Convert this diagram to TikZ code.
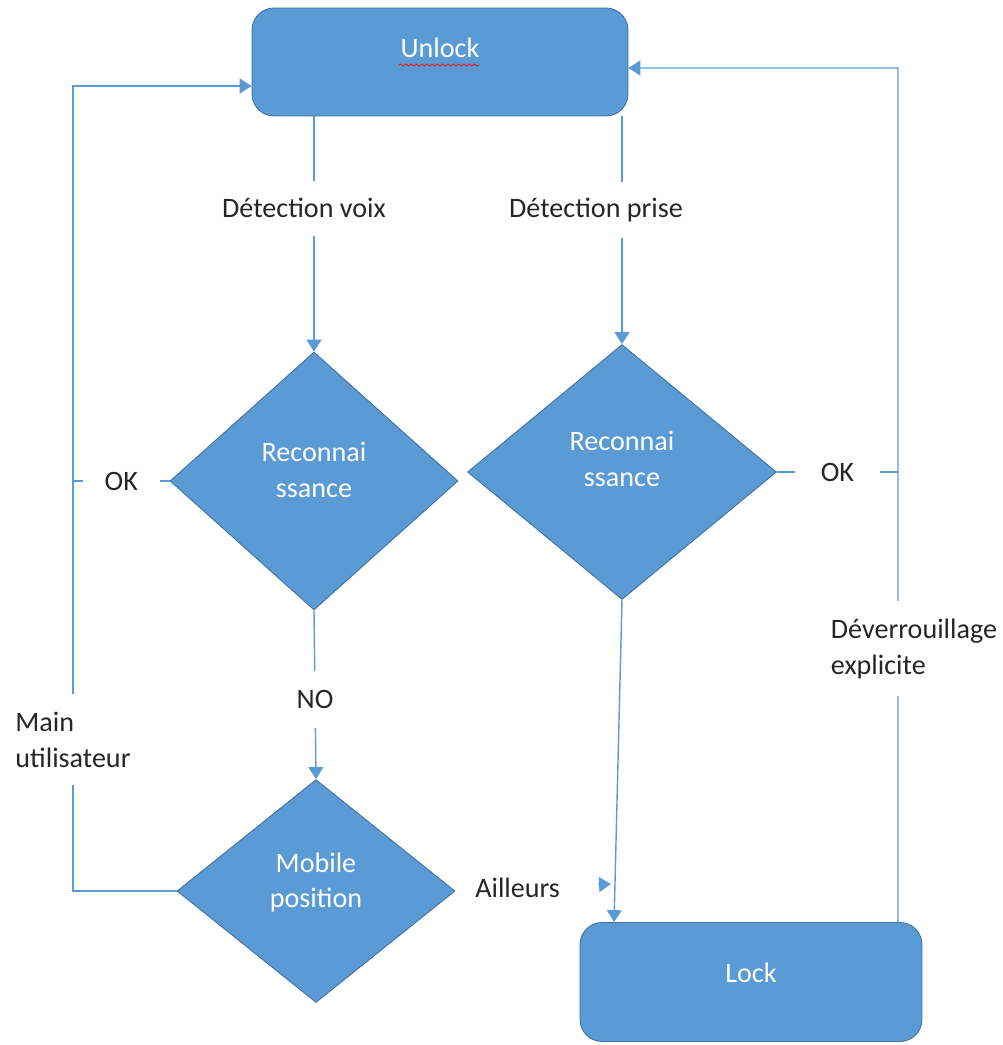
\documentclass[tikz,border=0pt]{standalone}
\usepackage{fontspec}
\setmainfont{Carlito}
\usetikzlibrary{shapes.geometric,arrows.meta,decorations.pathmorphing}
\definecolor{officeblue}{RGB}{91,155,213}
\definecolor{officeedge}{RGB}{65,113,156}
\definecolor{labelgray}{RGB}{38,38,38}
\definecolor{spellred}{RGB}{225,30,30}

\begin{document}
\begin{tikzpicture}[x=0.02cm, y=-0.02cm,
    box/.style={draw=officeedge, line width=0.5pt, fill=officeblue,
                rounded corners=0.44cm, inner sep=0pt},
    decision/.style={diamond, draw=officeedge, line width=0.5pt,
                fill=officeblue, inner sep=0pt},
    inside/.style={text=white, align=center},
    flow/.style={officeblue, line width=0.8pt},
    arrow/.style={flow, -{Triangle[length=6.8pt,width=8.5pt]}},
    lbl/.style={fill=white, text=labelgray},
    every node/.style={font=\fontsize{16}{20.4}\selectfont}
]
\useasboundingbox (0,0) rectangle (1002,1045);

\node[box, minimum width=7.52cm, minimum height=2.16cm,
      label={[inside, yshift=0.28cm]center:Unlock}] (unlock) at (440,62) {};
\node[box, minimum width=6.84cm, minimum height=2.38cm,
      label={[inside, yshift=0.18cm]center:Lock}] (lock) at (751,982) {};

\node[decision, minimum width=5.76cm, minimum height=5.16cm,
      label={[inside, yshift=0.22cm]center:{Reconnai\\ssance}}] (voix) at (314,481) {};
\node[decision, minimum width=6.18cm, minimum height=5.1cm,
      label={[inside, yshift=0.26cm]center:{Reconnai\\ssance}}] (prise) at (622,472) {};
\node[decision, minimum width=5.56cm, minimum height=4.46cm,
      label={[inside, yshift=0.17cm]center:{Mobile\\position}}] (mobile) at (316,891) {};

% spell check underline
\draw[spellred, line width=0.5pt, decorate,
      decoration={snake, amplitude=0.6pt, segment length=3pt}] (399,65) -- (480,65);

\coordinate (mainTop) at (73,86);
\coordinate (rightTop) at (898,68);
\coordinate (ailleurs) at (611,884);

\draw[arrow] (voix.north |- unlock.south) -- node[lbl, pos=0.39, xshift=-0.2cm,
     inner ysep=10pt] {Détection voix} (voix.north);
\draw[arrow] (prise.north |- unlock.south) -- node[lbl, pos=0.41, xshift=-0.52cm,
     inner ysep=9pt] {Détection prise} (prise.north);
\draw[arrow] (voix.south) -- node[lbl, pos=0.53, inner ysep=11pt] {NO} (mobile.north);
\draw[arrow] (prise.south) -- ([xshift=-2.74cm]lock.north);
\draw[arrow, shorten <=2.86cm] (mobile.east) -- node[pos=0.4, text=labelgray]
     {Ailleurs} (ailleurs);

% left loop
\draw[arrow] (mobile.west) -- (mobile.west -| mainTop)
     -- node[lbl, pos=0.188, align=left, inner xsep=2pt, inner ysep=10pt]
        {Main\\utilisateur} (mainTop) -- (unlock.west |- mainTop);
\draw[flow] (voix.west) -- node[lbl, inner xsep=0.44cm] {OK} (voix.west -| mainTop);

% right loop
\draw[arrow] ([xshift=2.94cm]lock.north)
     -- node[lbl, pos=0.32, xshift=0.32cm, align=left, inner xsep=2pt, inner ysep=10pt]
        {Déverrouillage\\explicite} (rightTop) -- (unlock.east |- rightTop);
\draw[flow] (prise.east) -- node[lbl, inner xsep=0.52cm] {OK} (prise.east -| rightTop);
\end{tikzpicture}
\end{document}
